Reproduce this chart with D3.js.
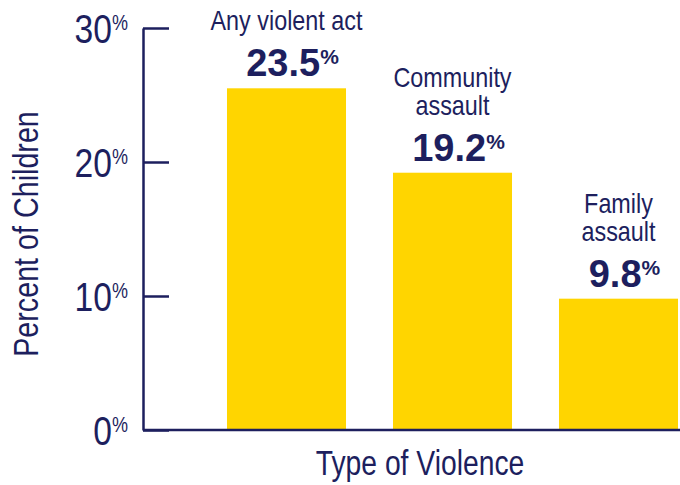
<!DOCTYPE html>
<html>
<head>
<meta charset="utf-8">
<script src="https://cdn.jsdelivr.net/npm/d3@7"></script>
<style>
  body { margin: 0; background: #fff; }
  svg { display: block; }
  .narrow { font-family: "Liberation Sans", Arial, sans-serif; }
</style>
</head>
<body>
<svg id="chart" width="680" height="485"></svg>
<script>
// data
var categories = [["Any violent act"], ["Community", "assault"], ["Family", "assault"]]
var barValues = [25.5, 19.2, 9.8]          // bar heights as drawn
var valueLabels = ["23.5", "19.2", "9.8"]  // printed labels
var yTicks = [0, 10, 20, 30]

var navy = "#1d1f5e", yellow = "#ffd500"
var w = 680, h = 485
var sx = 0.82   // squeeze to mimic a condensed face

var svg = d3.select('#chart')

// text placed in a horizontally squeezed group
function narrow(parent, px, py, rot) {
    return parent.append('g')
        .attr('transform', 'translate(' + px + ',' + py + ')' + (rot ? ' rotate(' + rot + ')' : '') + ' scale(' + sx + ',1)')
        .append('text')
        .attr('class', 'narrow')
        .attr('fill', navy)
}

var y = d3.scaleLinear().domain([0, 30]).range([430, 28])
var x = d3.scaleBand()
    .domain(d3.range(categories.length))
    .range([203.5, 701.5])
    .paddingInner(0.283)
    .paddingOuter(0.1415)

// bars
svg.selectAll('.bar')
    .data(barValues)
    .enter()
    .append('rect')
    .attr('class', 'bar')
    .attr('x', function(d, i) { return x(i) })
    .attr('width', x.bandwidth())
    .attr('y', function(d) { return y(d) })
    .attr('height', function(d) { return y(0) - y(d) })
    .attr('fill', yellow)

// y axis, ticks pointing inward
var yAxis = d3.axisLeft(y)
    .tickValues(yTicks)
    .tickSizeInner(-26)
    .tickSizeOuter(0)
    .tickFormat(function(d) { return d })

var gy = svg.append('g')
    .attr('transform', 'translate(143,0)')
    .call(yAxis)

gy.select('.domain').attr('stroke', navy).attr('stroke-width', 2.5)
gy.selectAll('.tick line').attr('stroke', navy).attr('stroke-width', 2.5)
gy.selectAll('.tick text').remove()
gy.selectAll('.tick').each(function(d) {
    var t = narrow(d3.select(this), -15, 14)
        .attr('text-anchor', 'end')
        .attr('font-size', 41)
        .text(d)
    t.append('tspan')
        .attr('font-size', 22)
        .attr('dy', -13)
        .text('%')
})

// x axis line
svg.append('line')
    .attr('x1', 143).attr('x2', w)
    .attr('y1', y(0)).attr('y2', y(0))
    .attr('stroke', navy)
    .attr('stroke-width', 2.5)

// value labels
var vals = svg.selectAll('.val')
    .data(barValues)
    .enter()
    .append('text')
    .attr('class', 'val')
    .attr('x', function(d, i) { return x(i) + x.bandwidth() / 2 + 6 })
    .attr('y', function(d) { return y(d) - 12 })
    .attr('text-anchor', 'middle')
    .attr('fill', navy)
    .attr('font-family', '"Liberation Sans", Arial, sans-serif')
    .attr('font-weight', 'bold')
    .attr('font-size', 38)
    .text(function(d, i) { return valueLabels[i] })
vals.append('tspan')
    .attr('font-size', 21)
    .attr('dy', -12)
    .text('%')

// category labels
categories.forEach(function(lines, i) {
    var base = y(barValues[i]) - 12 - 46
    lines.forEach(function(line, j) {
        narrow(svg, x(i) + x.bandwidth() / 2, base - (lines.length - 1 - j) * 28)
            .attr('text-anchor', 'middle')
            .attr('font-size', 28.5)
            .text(line)
    })
})

// axis titles
narrow(svg, 38, 234, -90)
    .attr('text-anchor', 'middle')
    .attr('font-size', 35)
    .text('Percent of Children')

narrow(svg, 420, 475)
    .attr('text-anchor', 'middle')
    .attr('font-size', 34.5)
    .text('Type of Violence')
</script>
</body>
</html>
